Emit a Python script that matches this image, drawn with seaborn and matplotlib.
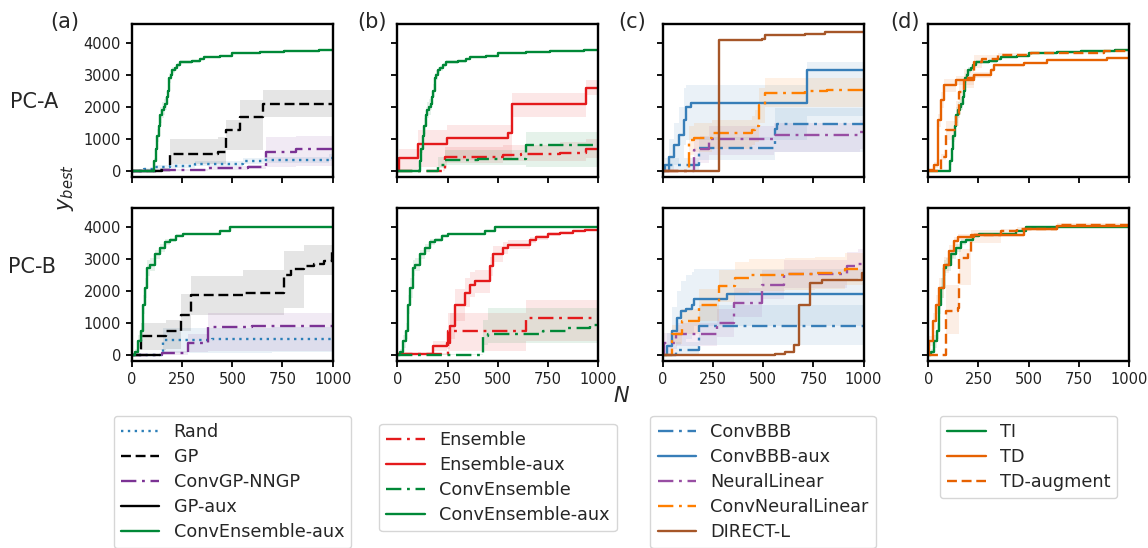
import numpy as np
import pandas as pd
import matplotlib
matplotlib.use("Agg")
import matplotlib.pyplot as plt
import seaborn as sns

# ---------------- data ----------------
XTICKS = [0, 250, 500, 750, 1000]
YTICKS = [0, 1000, 2000, 3000, 4000]
ROW_LABELS = ["PC-A", "PC-B"]
PANEL_LABELS = ["(a)", "(b)", "(c)", "(d)"]

# ConvEnsemble-aux / TI
CEA_A_x = [0, 105, 110, 118, 125, 132, 140, 148, 158, 165, 172, 178, 185, 192, 200, 212, 225, 240, 300, 340, 360, 440, 500, 640, 760, 930, 1000]
CEA_A_y = [0, 0, 300, 700, 1100, 1400, 1750, 1900, 2000, 2100, 2300, 2500, 2900, 3000, 3150, 3200, 3300, 3400, 3420, 3500, 3550, 3600, 3680, 3720, 3740, 3790, 3790]
CEA_A_h = [0, 0, 100, 150, 200, 250, 250, 250, 250, 200, 200, 200, 150, 150, 100, 80, 60, 50, 40, 30, 30, 30, 30, 30, 30, 30, 30]
CEA_B_x = [0, 13, 30, 43, 55, 63, 76, 88, 113, 138, 163, 187, 221, 254, 438, 488, 1000]
CEA_B_y = [0, 100, 430, 740, 1570, 2090, 2720, 2820, 3140, 3340, 3520, 3600, 3730, 3780, 3870, 4000, 4000]
CEA_B_h = [0, 80, 200, 250, 300, 300, 250, 200, 150, 120, 100, 60, 40, 30, 20, 10, 10]

# (a) PC-A
RAND_A_x = [0, 60, 113, 187, 312, 552, 660, 983, 1000]
RAND_A_y = [0, 50, 125, 150, 230, 300, 330, 400, 400]
RAND_A_lo = [0, 0, 60, 80, 150, 220, 250, 300, 300]
RAND_A_hi = [0, 100, 200, 230, 320, 400, 430, 520, 520]
GP_A_x = [0, 121, 187, 428, 469, 536, 652, 1000]
GP_A_y = [0, 20, 540, 590, 1270, 1690, 2100, 2120]
GP_A_lo = [0, 0, 230, 230, 650, 650, 1670, 1670]
GP_A_hi = [0, 60, 1010, 1050, 1580, 2210, 2540, 2540]
NNGP_A_x = [0, 121, 378, 577, 668, 818, 1000]
NNGP_A_y = [0, 30, 80, 115, 590, 700, 750]
NNGP_A_lo = [0, 0, 40, 60, 125, 150, 200]
NNGP_A_hi = [0, 60, 150, 200, 1060, 1100, 1170]
GPAUX_A_x = [0, 50, 150]
GPAUX_A_y = [0, 10, 20]

# (a) PC-B
RAND_B_x = [0, 156, 400, 700, 1000]
RAND_B_y = [0, 480, 490, 500, 500]
RAND_B_lo = [0, 60, 60, 80, 80]
RAND_B_hi = [0, 840, 850, 860, 860]
GP_B_x = [0, 46, 171, 245, 295, 552, 760, 793, 859, 909, 958, 995, 1000]
GP_B_y = [0, 600, 760, 1260, 1870, 1940, 2510, 2670, 2770, 2850, 2950, 3350, 3350]
GP_B_lo = [0, 170, 200, 740, 1260, 1260, 1470, 1470, 2510, 2510, 2510, 2510, 2510]
GP_B_hi = [0, 1000, 1100, 1890, 2460, 2640, 3240, 3240, 3450, 3450, 3450, 3550, 3550]
NNGP_B_x = [0, 150, 279, 378, 600, 1000]
NNGP_B_y = [0, 50, 375, 880, 890, 900]
NNGP_B_lo = [0, 0, 100, 115, 115, 115]
NNGP_B_hi = [0, 120, 650, 1310, 1310, 1310]
GPAUX_B_x = [0, 140]
GPAUX_B_y = [0, 0]

# (b)
EA_A_x = [0, 10, 104, 245, 552, 569, 942, 1000]
EA_A_y = [0, 415, 830, 1040, 1170, 2100, 2590, 2590]
EA_A_lo = [0, 0, 125, 330, 330, 1690, 2370, 2370]
EA_A_hi = [0, 700, 1270, 1430, 1430, 2420, 2830, 2830]
E_A_x = [0, 229, 237, 527, 617, 809, 942, 1000]
E_A_y = [0, 20, 440, 510, 540, 560, 700, 700]
E_A_lo = [0, 0, 250, 300, 300, 300, 400, 400]
E_A_hi = [0, 60, 750, 800, 800, 900, 1000, 1000]
CE_A_x = [0, 196, 204, 237, 400, 643, 1000]
CE_A_y = [0, 0, 180, 350, 385, 800, 800]
CE_A_lo = [0, 0, 100, 200, 200, 125, 125]
CE_A_hi = [0, 30, 450, 650, 650, 1200, 1200]

EA_B_x = [0, 179, 245, 262, 287, 337, 361, 386, 461, 478, 527, 552, 660, 693, 751, 809, 876, 934, 1000]
EA_B_y = [30, 270, 375, 900, 1570, 1940, 2200, 2300, 2770, 3140, 3340, 3450, 3600, 3680, 3780, 3820, 3870, 3890, 3890]
EA_B_h = [30, 150, 200, 400, 500, 450, 400, 350, 300, 250, 200, 150, 100, 80, 60, 50, 40, 30, 30]
E_B_x = [0, 254, 643, 1000]
E_B_y = [30, 740, 1160, 1160]
E_B_lo = [0, 115, 430, 430]
E_B_hi = [60, 1310, 1730, 1730]
CE_B_x = [0, 428, 453, 726, 842, 958, 1000]
CE_B_y = [0, 580, 640, 740, 840, 950, 950]
CE_B_lo = [0, 300, 375, 375, 375, 375, 375]
CE_B_hi = [30, 1100, 1470, 1470, 1470, 1470, 1470]

# (c)
DL_A_x = [0, 279, 494, 511, 710, 809, 1000]
DL_A_y = [0, 4085, 4115, 4240, 4270, 4345, 4370]
BBBAUX_A_x = [0, 30, 55, 80, 104, 113, 138, 710, 718, 1000]
BBBAUX_A_y = [0, 440, 800, 1110, 1580, 2000, 2125, 2125, 3150, 3150]
BBBAUX_A_lo = [0, 0, 200, 400, 800, 960, 960, 960, 1700, 1700]
BBBAUX_A_hi = [0, 1000, 1500, 2000, 2600, 2680, 2680, 2680, 3400, 3400]
BBB_A_x = [0, 13, 163, 179, 552, 560, 569, 1000]
BBB_A_y = [0, 180, 180, 730, 730, 1320, 1480, 1480]
BBB_A_lo = [0, 0, 0, 330, 330, 590, 590, 590]
BBB_A_hi = [0, 400, 400, 1060, 1060, 1950, 1950, 1950]
NL_A_x = [0, 154, 163, 187, 229, 552, 983, 1000]
NL_A_y = [0, 650, 650, 700, 1010, 1135, 1220, 1220]
NL_A_lo = [0, 200, 200, 250, 500, 600, 700, 700]
NL_A_hi = [0, 1000, 1000, 1100, 1400, 1500, 1600, 1600]
CNL_A_x = [0, 129, 154, 246, 444, 461, 478, 511, 710, 818, 1000]
CNL_A_y = [0, 960, 1040, 1170, 1270, 1400, 2050, 2420, 2500, 2540, 2540]
CNL_A_lo = [0, 500, 600, 700, 800, 900, 1500, 2000, 2000, 2000, 2000]
CNL_A_hi = [0, 1400, 1500, 1600, 1700, 1900, 2600, 2890, 2890, 2890, 2890]

DL_B_x = [0, 478, 561, 610, 652, 680, 735, 793, 992, 1000]
DL_B_y = [0, 0, 30, 80, 320, 1570, 2250, 2350, 2560, 2560]
BBBAUX_B_x = [0, 22, 46, 71, 88, 113, 146, 154, 320, 1000]
BBBAUX_B_y = [0, 270, 740, 1160, 1365, 1420, 1570, 1760, 1910, 1910]
BBBAUX_B_lo = [0, 0, 200, 300, 400, 500, 700, 900, 900, 900]
BBBAUX_B_hi = [0, 700, 1500, 2000, 2300, 2500, 2600, 2700, 2700, 2700]
BBB_B_x = [0, 63, 179, 1000]
BBB_B_y = [0, 170, 900, 900]
BBB_B_lo = [0, 0, 320, 320]
BBB_B_hi = [0, 400, 1570, 1570]
NL_B_x = [0, 5, 63, 270, 353, 494, 605, 920, 975, 1000]
NL_B_y = [0, 375, 640, 1000, 1630, 2200, 2530, 2770, 2850, 2850]
NL_B_h = [0, 300, 350, 450, 450, 450, 450, 450, 450, 450]
CNL_B_x = [0, 22, 46, 96, 179, 279, 361, 428, 610, 760, 909, 1000]
CNL_B_y = [0, 0, 640, 1050, 1570, 2150, 2400, 2510, 2530, 2560, 2700, 2700]
CNL_B_h = [0, 0, 300, 400, 500, 500, 500, 500, 500, 500, 500, 500]

# (d)
TD_A_x = [0, 30, 46, 63, 80, 138, 229, 312, 328, 478, 594, 892, 1000]
TD_A_y = [30, 180, 1580, 2210, 2680, 2830, 2990, 3150, 3300, 3380, 3460, 3530, 3530]
TD_A_h = [30, 100, 200, 250, 200, 150, 100, 60, 50, 30, 30, 20, 20]
TDAUG_A_x = [0, 63, 88, 138, 154, 179, 229, 270, 345, 511, 677, 876, 1000]
TDAUG_A_y = [0, 440, 1270, 1790, 2470, 2890, 3410, 3510, 3620, 3670, 3690, 3750, 3760]
TDAUG_A_h = [0, 100, 300, 400, 350, 300, 200, 100, 50, 30, 30, 30, 30]
TD_B_x = [0, 5, 22, 38, 55, 80, 104, 129, 146, 229, 478, 643, 1000]
TD_B_y = [0, 430, 1050, 1570, 2090, 2820, 3240, 3550, 3680, 3760, 3920, 4020, 4070]
TD_B_h = [0, 150, 250, 300, 300, 250, 200, 150, 100, 60, 40, 30, 30]
TDAUG_B_x = [0, 80, 88, 146, 154, 196, 212, 361, 444, 643, 1000]
TDAUG_B_y = [0, 0, 1365, 1470, 3030, 3190, 3760, 3870, 3950, 4070, 4120]
TDAUG_B_lo = [0, 0, 640, 640, 2200, 2200, 3500, 3800, 3900, 4000, 4050]
TDAUG_B_hi = [0, 0, 2200, 2200, 3300, 3300, 3900, 3950, 4000, 4130, 4170]

# ---------------- styling ----------------
GREEN = "#008837"
PURPLE_A = "#7b3294"
BLUE_A = "#2c7fb8"
RED = "#e41a1c"
BLUE = "#377eb8"
PURPLE = "#984ea3"
ORANGE = "#ff7f00"
BROWN = "#a65628"
TDOR = "#e66101"

SOLID = "-"
DASHED = (0, (4.2, 2.0))
DASHDOT = (0, (6.5, 2.4, 1.2, 2.4))
DOTTED = (0, (1.0, 1.9))

sns.set_style("ticks")
plt.rcParams["font.family"] = ["DejaVu Sans"]
plt.rcParams["axes.linewidth"] = 1.7
plt.rcParams["xtick.major.width"] = 1.3
plt.rcParams["ytick.major.width"] = 1.3
plt.rcParams["xtick.major.size"] = 4.5
plt.rcParams["ytick.major.size"] = 4.5
plt.rcParams["xtick.labelsize"] = 10.5
plt.rcParams["ytick.labelsize"] = 10.5

fig, axes = plt.subplots(2, 4, figsize=(11.48, 5.48), dpi=100, sharex=True, sharey=True)
fig.subplots_adjust(left=0.115, right=0.9834, top=0.9562, bottom=0.3412, wspace=0.323, hspace=0.203)

LW = 1.7


def curve(ax, x, y, color, ls, label, lo=None, hi=None, h=None):
    df = pd.DataFrame({"N": x, "y": y})
    sns.lineplot(data=df, x="N", y="y", ax=ax, color=color, linestyle=ls, lw=LW,
                 drawstyle="steps-post", label=label, legend=False, errorbar=None)
    if h is not None:
        lo = np.array(y) - np.array(h)
        hi = np.array(y) + np.array(h)
    if lo is not None:
        ax.fill_between(x, lo, hi, step="post", color=color, alpha=0.1, lw=0)


# column a
ax = axes[0, 0]
curve(ax, RAND_A_x, RAND_A_y, BLUE_A, DOTTED, "Rand", RAND_A_lo, RAND_A_hi)
curve(ax, GP_A_x, GP_A_y, "k", DASHED, "GP", GP_A_lo, GP_A_hi)
curve(ax, NNGP_A_x, NNGP_A_y, PURPLE_A, DASHDOT, "ConvGP-NNGP", NNGP_A_lo, NNGP_A_hi)
curve(ax, GPAUX_A_x, GPAUX_A_y, "k", SOLID, "GP-aux")
curve(ax, CEA_A_x, CEA_A_y, GREEN, SOLID, "ConvEnsemble-aux", h=CEA_A_h)
ax = axes[1, 0]
curve(ax, RAND_B_x, RAND_B_y, BLUE_A, DOTTED, "Rand", RAND_B_lo, RAND_B_hi)
curve(ax, GP_B_x, GP_B_y, "k", DASHED, "GP", GP_B_lo, GP_B_hi)
curve(ax, NNGP_B_x, NNGP_B_y, PURPLE_A, DASHDOT, "ConvGP-NNGP", NNGP_B_lo, NNGP_B_hi)
curve(ax, GPAUX_B_x, GPAUX_B_y, "k", SOLID, "GP-aux")
curve(ax, CEA_B_x, CEA_B_y, GREEN, SOLID, "ConvEnsemble-aux", h=CEA_B_h)

# column b
ax = axes[0, 1]
curve(ax, E_A_x, E_A_y, RED, DASHDOT, "Ensemble", E_A_lo, E_A_hi)
curve(ax, EA_A_x, EA_A_y, RED, SOLID, "Ensemble-aux", EA_A_lo, EA_A_hi)
curve(ax, CE_A_x, CE_A_y, GREEN, DASHDOT, "ConvEnsemble", CE_A_lo, CE_A_hi)
curve(ax, CEA_A_x, CEA_A_y, GREEN, SOLID, "ConvEnsemble-aux", h=CEA_A_h)
ax = axes[1, 1]
curve(ax, E_B_x, E_B_y, RED, DASHDOT, "Ensemble", E_B_lo, E_B_hi)
curve(ax, EA_B_x, EA_B_y, RED, SOLID, "Ensemble-aux", h=EA_B_h)
curve(ax, CE_B_x, CE_B_y, GREEN, DASHDOT, "ConvEnsemble", CE_B_lo, CE_B_hi)
curve(ax, CEA_B_x, CEA_B_y, GREEN, SOLID, "ConvEnsemble-aux", h=CEA_B_h)

# column c
ax = axes[0, 2]
curve(ax, BBB_A_x, BBB_A_y, BLUE, DASHDOT, "ConvBBB", BBB_A_lo, BBB_A_hi)
curve(ax, BBBAUX_A_x, BBBAUX_A_y, BLUE, SOLID, "ConvBBB-aux", BBBAUX_A_lo, BBBAUX_A_hi)
curve(ax, NL_A_x, NL_A_y, PURPLE, DASHDOT, "NeuralLinear", NL_A_lo, NL_A_hi)
curve(ax, CNL_A_x, CNL_A_y, ORANGE, DASHDOT, "ConvNeuralLinear", CNL_A_lo, CNL_A_hi)
curve(ax, DL_A_x, DL_A_y, BROWN, SOLID, "DIRECT-L")
ax = axes[1, 2]
curve(ax, BBB_B_x, BBB_B_y, BLUE, DASHDOT, "ConvBBB", BBB_B_lo, BBB_B_hi)
curve(ax, BBBAUX_B_x, BBBAUX_B_y, BLUE, SOLID, "ConvBBB-aux", BBBAUX_B_lo, BBBAUX_B_hi)
curve(ax, NL_B_x, NL_B_y, PURPLE, DASHDOT, "NeuralLinear", h=NL_B_h)
curve(ax, CNL_B_x, CNL_B_y, ORANGE, DASHDOT, "ConvNeuralLinear", h=CNL_B_h)
curve(ax, DL_B_x, DL_B_y, BROWN, SOLID, "DIRECT-L")

# column d
ax = axes[0, 3]
curve(ax, CEA_A_x, CEA_A_y, GREEN, SOLID, "TI", h=CEA_A_h)
curve(ax, TD_A_x, TD_A_y, TDOR, SOLID, "TD", h=TD_A_h)
curve(ax, TDAUG_A_x, TDAUG_A_y, TDOR, DASHED, "TD-augment", h=TDAUG_A_h)
ax = axes[1, 3]
curve(ax, CEA_B_x, CEA_B_y, GREEN, SOLID, "TI", h=CEA_B_h)
curve(ax, TD_B_x, TD_B_y, TDOR, SOLID, "TD", h=TD_B_h)
curve(ax, TDAUG_B_x, TDAUG_B_y, TDOR, DASHED, "TD-augment", TDAUG_B_lo, TDAUG_B_hi)

for r in range(2):
    for c in range(4):
        ax = axes[r, c]
        ax.set_xlim(0, 1000)
        ax.set_ylim(-190, 4590)
        ax.set_xticks(XTICKS)
        ax.set_yticks(YTICKS)
        ax.set_xlabel("")
        ax.set_ylabel("")
        for s in ax.spines.values():
            s.set_visible(True)
            s.set_color("black")
        ax.tick_params(colors="black", labelcolor="#222222")
        if r == 0:
            ax.tick_params(labelbottom=False)
        if c > 0:
            ax.tick_params(labelleft=False)

# legends
legend_tops = [407, 415, 407, 407]
for c in range(4):
    ax = axes[0, c]
    h, l = ax.get_legend_handles_labels()
    pos = ax.get_position()
    xc = (pos.x0 + pos.x1) / 2
    fig.legend(h, l, loc="upper center", bbox_to_anchor=(xc, 1 - legend_tops[c] / 548),
               fontsize=12.7, frameon=True, handlelength=2.2, labelspacing=0.4)

# texts
panel_x = [65, 372, 632, 905]
for c, t in enumerate(PANEL_LABELS):
    fig.text(panel_x[c] / 1148, 1 - 22 / 548, t, ha="center", va="center", fontsize=15)
fig.text(34 / 1148, 1 - 102 / 548, ROW_LABELS[0], ha="center", va="center", fontsize=15)
fig.text(32 / 1148, 1 - 267 / 548, ROW_LABELS[1], ha="center", va="center", fontsize=15)
fig.text(66 / 1148, 1 - 188 / 548, "$y_{best}$", ha="center", va="center", rotation=90, fontsize=15)
fig.text(622 / 1148, 1 - 396 / 548, "$N$", ha="center", va="center", fontsize=15)

fig.savefig("out.png", dpi=100)
